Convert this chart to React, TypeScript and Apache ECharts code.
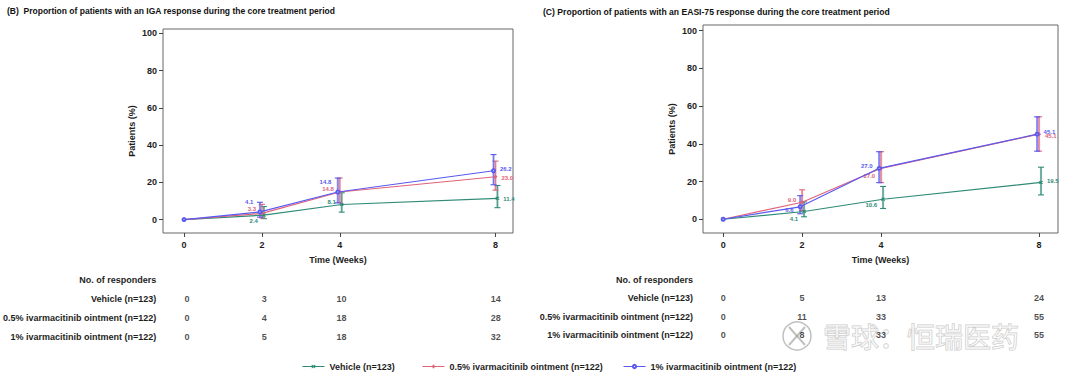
import React, { useEffect, useRef } from 'react';
import * as echarts from 'echarts';

// ---------- data ----------
const weeks = [0, 2, 4, 8];
const xTickValues = [0, 2, 4, 8];
const yTickValues = [0, 20, 40, 60, 80, 100];
const seriesNames = [
  'Vehicle (n=123)',
  '0.5% ivarmacitinib ointment (n=122)',
  '1% ivarmacitinib ointment (n=122)',
];
const tableHeader = 'No. of responders';
const titleB = '(B)  Proportion of patients with an IGA response during the core treatment period';
const titleC = '(C) Proportion of patients with an EASI-75 response during the core treatment period';

// Panel B — IGA response (%)
const igaVehicle = [0, 2.4, 8.1, 11.4];
const igaHalf = [0, 3.3, 14.8, 23.0];
const igaOne = [0, 4.1, 14.8, 26.2];
const igaVehicleLo = [0, 0.5, 4.0, 6.4];
const igaVehicleHi = [0, 7.0, 14.4, 18.3];
const igaHalfLo = [0, 0.9, 9.0, 15.8];
const igaHalfHi = [0, 8.2, 22.3, 31.4];
const igaOneLo = [0, 1.3, 9.0, 18.7];
const igaOneHi = [0, 9.3, 22.3, 34.9];
const igaRespVehicle = [0, 3, 10, 14];
const igaRespHalf = [0, 4, 18, 28];
const igaRespOne = [0, 5, 18, 32];

// Panel C — EASI-75 response (%)
const easiVehicle = [0, 4.1, 10.6, 19.5];
const easiHalf = [0, 9.0, 27.0, 45.1];
const easiOne = [0, 6.6, 27.0, 45.1];
const easiVehicleLo = [0, 1.3, 5.7, 12.9];
const easiVehicleHi = [0, 9.2, 17.4, 27.6];
const easiHalfLo = [0, 4.6, 19.4, 36.1];
const easiHalfHi = [0, 15.6, 35.8, 54.3];
const easiOneLo = [0, 2.9, 19.4, 36.1];
const easiOneHi = [0, 12.5, 35.8, 54.3];
const easiRespVehicle = [0, 5, 13, 24];
const easiRespHalf = [0, 11, 33, 55];
const easiRespOne = [0, 8, 33, 55];

// ---------- styles ----------
const COLORS = ['#2f8a78', '#e0637a', '#5a5af0'];
const DODGE = [0.05, 0, -0.05];
const SYMBOLS = [
  'path://M0,1L1,0L5,4L9,0L10,1L6,5L10,9L9,10L5,6L1,10L0,9L4,5Z',
  'path://M4,0H6V4H10V6H6V10H4V6H0V4H4Z',
  'emptyCircle',
];
const FONT = '"Liberation Sans", Arial, Helvetica, sans-serif';
const TXT = '#1e1e1e';

// label placements per series per week: [position, dy]
type LP = [string, number] | null;
const igaLabelPlace: LP[][] = [
  [null, ['left', 6], ['left', -2.6], ['right', 1]],
  [null, ['left', -4.5], ['left', -3], ['right', 1]],
  [null, ['left', -10], ['left', -10], ['right', -1.6]],
];
const easiLabelPlace: LP[][] = [
  [null, ['left', 7.5], ['left', 6], ['right', -1]],
  [null, ['left', -2], ['left', 7.5], ['right', 2.3]],
  [null, ['left', 3], ['left', -2], ['right', -2]],
];

function lineSeries(idx: number, vals: number[], place: LP[], axis: number) {
  return {
    type: 'line',
    name: seriesNames[idx],
    xAxisIndex: axis,
    yAxisIndex: axis,
    z: 4 + idx,
    symbol: SYMBOLS[idx],
    symbolSize: 3,
    showSymbol: true,
    lineStyle: { color: COLORS[idx], width: 1.2 },
    itemStyle: { color: COLORS[idx], borderColor: COLORS[idx], borderWidth: 0.8 },
    data: weeks.map((w, i) => {
      const p = place[i];
      return {
        value: [w + (i === 0 ? 0 : DODGE[idx]), vals[i]],
        label: p
          ? {
              show: true,
              position: p[0],
              distance: 4,
              offset: [0, p[1]],
              formatter: vals[i].toFixed(1),
              color: COLORS[idx],
              fontSize: 6,
              fontWeight: 'bold',
              fontFamily: FONT,
            }
          : { show: false },
      };
    }),
  };
}

function errorSeries(idx: number, lo: number[], hi: number[], axis: number) {
  const color = COLORS[idx];
  return {
    type: 'custom',
    name: 'eb' + axis + '_' + idx,
    xAxisIndex: axis,
    yAxisIndex: axis,
    silent: true,
    z: 3,
    data: weeks.slice(1).map((w, i) => [w + DODGE[idx], lo[i + 1], hi[i + 1]]),
    renderItem: (_params: any, api: any) => {
      const top = api.coord([api.value(0), api.value(2)]);
      const bot = api.coord([api.value(0), api.value(1)]);
      const c = 3;
      return {
        type: 'group',
        children: [
          {
            type: 'line',
            shape: { x1: top[0], y1: top[1], x2: bot[0], y2: bot[1] },
            style: { stroke: color, lineWidth: 2.2, opacity: 0.5 },
          },
          {
            type: 'line',
            shape: { x1: top[0], y1: top[1], x2: bot[0], y2: bot[1] },
            style: { stroke: color, lineWidth: 0.7 },
          },
          {
            type: 'line',
            shape: { x1: top[0] - c, y1: top[1], x2: top[0] + c, y2: top[1] },
            style: { stroke: color, lineWidth: 1.1 },
          },
          {
            type: 'line',
            shape: { x1: bot[0] - c, y1: bot[1], x2: bot[0] + c, y2: bot[1] },
            style: { stroke: color, lineWidth: 1.1 },
          },
        ],
      };
    },
  };
}

function tableSeries(resp: number[][], axis: number) {
  const data: any[] = [];
  resp.forEach((row, r) => {
    row.forEach((v, i) => data.push([weeks[i], seriesNames[r], v]));
  });
  return {
    type: 'scatter',
    name: 'table' + axis,
    xAxisIndex: axis,
    yAxisIndex: axis,
    symbolSize: 0.1,
    itemStyle: { color: 'transparent' },
    silent: true,
    data,
    label: {
      show: true,
      position: 'inside',
      formatter: (p: any) => String(p.data[2]),
      color: TXT,
      fontSize: 9,
      fontWeight: 'bold',
      fontFamily: FONT,
    },
  };
}

const plotX = (gi: number, min: number, max: number) => ({
  type: 'value',
  gridIndex: gi,
  min,
  max,
  name: 'Time (Weeks)',
  nameLocation: 'middle',
  nameGap: 22,
  nameTextStyle: { color: TXT, fontSize: 9, fontWeight: 'bold', fontFamily: FONT },
  axisLine: { show: false, onZero: false },
  axisTick: { show: true, inside: false, length: 4, customValues: xTickValues, lineStyle: { color: '#444', width: 1 } },
  axisLabel: { customValues: xTickValues, margin: 7, color: TXT, fontSize: 9, fontWeight: 'bold', fontFamily: FONT },
  splitLine: { show: false },
});

const plotY = (gi: number, min: number, max: number) => ({
  type: 'value',
  gridIndex: gi,
  min,
  max,
  name: 'Patients (%)',
  nameLocation: 'middle',
  nameGap: 27,
  nameTextStyle: { color: TXT, fontSize: 9, fontWeight: 'bold', fontFamily: FONT },
  axisLine: { show: false, onZero: false },
  axisTick: { show: true, inside: false, length: 4, customValues: yTickValues, lineStyle: { color: '#444', width: 1 } },
  axisLabel: { customValues: yTickValues, margin: 6, color: TXT, fontSize: 9, fontWeight: 'bold', fontFamily: FONT },
  splitLine: { show: false },
});

export default function App() {
  const ref = useRef<HTMLDivElement>(null);
  useEffect(() => {
    if (!ref.current) return;
    const chart = echarts.init(ref.current, null, { renderer: 'svg' });
    const catRows = [tableHeader, ...seriesNames];
    const tableX = (gi: number, min: number, max: number) => ({
      type: 'value', gridIndex: gi, min, max, show: false,
    });
    const tableY = (gi: number) => ({
      type: 'category',
      gridIndex: gi,
      data: catRows,
      inverse: true,
      axisLine: { show: false },
      axisTick: { show: false },
      splitLine: { show: false },
      axisLabel: { margin: 10, color: TXT, fontSize: 9, fontWeight: 'bold', fontFamily: FONT },
    });

    const option: any = {
      animation: false,
      backgroundColor: '#ffffff',
      textStyle: { fontFamily: FONT },
      title: [
        { text: titleB, left: 2, top: 1, textStyle: { color: '#111', fontSize: 8.5, fontWeight: 'bold', fontFamily: FONT } },
        { text: titleC, left: 538, top: 2, textStyle: { color: '#111', fontSize: 8.6, fontWeight: 'bold', fontFamily: FONT } },
      ],
      legend: seriesNames.map((n, i) => ({
        data: [n],
        left: [297, 417, 618][i],
        top: 357,
        itemWidth: 22,
        itemHeight: 4,
        itemGap: 0,
        selectedMode: false,
        itemStyle: { borderWidth: 0.8 },
        lineStyle: { width: 1 },
        textStyle: { color: TXT, fontSize: 9, fontWeight: 'bold', fontFamily: FONT },
      })),
      grid: [
        { left: 163, top: 29, width: 350, height: 204, show: true, borderColor: '#666', borderWidth: 1, backgroundColor: 'transparent' },
        { left: 703, top: 25, width: 355, height: 208, show: true, borderColor: '#666', borderWidth: 1, backgroundColor: 'transparent' },
        { left: 163, top: 270.5, width: 350, height: 76 },
        { left: 703, top: 271, width: 355, height: 73 },
      ],
      xAxis: [plotX(0, -0.54, 8.45), plotX(1, -0.51, 8.48), tableX(2, -0.54, 8.45), tableX(3, -0.51, 8.48)],
      yAxis: [plotY(0, -7.2, 102.3), plotY(1, -7.3, 103), tableY(2), tableY(3)],
      series: [
        errorSeries(0, igaVehicleLo, igaVehicleHi, 0),
        errorSeries(1, igaHalfLo, igaHalfHi, 0),
        errorSeries(2, igaOneLo, igaOneHi, 0),
        lineSeries(0, igaVehicle, igaLabelPlace[0], 0),
        lineSeries(1, igaHalf, igaLabelPlace[1], 0),
        lineSeries(2, igaOne, igaLabelPlace[2], 0),
        errorSeries(0, easiVehicleLo, easiVehicleHi, 1),
        errorSeries(1, easiHalfLo, easiHalfHi, 1),
        errorSeries(2, easiOneLo, easiOneHi, 1),
        lineSeries(0, easiVehicle, easiLabelPlace[0], 1),
        lineSeries(1, easiHalf, easiLabelPlace[1], 1),
        lineSeries(2, easiOne, easiLabelPlace[2], 1),
        tableSeries([igaRespVehicle, igaRespHalf, igaRespOne], 2),
        tableSeries([easiRespVehicle, easiRespHalf, easiRespOne], 3),
      ],
      graphic: [
        {
          type: 'group',
          z: 100,
          silent: true,
          children: [
            {
              type: 'circle',
              shape: { cx: 797, cy: 336, r: 14 },
              style: { fill: 'rgba(255,255,255,0.5)', stroke: 'rgba(150,150,150,0.6)', lineWidth: 1.5 },
            },
            {
              type: 'polyline',
              shape: { points: [[789, 327], [797, 336], [789, 345]] },
              style: { fill: 'none', stroke: 'rgba(150,150,150,0.6)', lineWidth: 2 },
            },
            {
              type: 'polyline',
              shape: { points: [[805, 327], [797, 336], [805, 345]] },
              style: { fill: 'none', stroke: 'rgba(150,150,150,0.6)', lineWidth: 2 },
            },
            {
              type: 'text',
              x: 823,
              y: 322,
              style: {
                text: '雪球：恒瑞医药',
                font: '28px "Noto Sans CJK SC"',
                fill: 'rgba(255,255,255,0.55)',
                stroke: 'rgba(150,150,150,0.55)',
                lineWidth: 1,
              },
            },
          ],
        },
      ],
    };
    chart.setOption(option);
    return () => chart.dispose();
  }, []);
  return (
    <div
      ref={ref}
      style={{ position: 'absolute', left: 0, top: 0, width: 1080, height: 373, background: '#fff' }}
    />
  );
}
